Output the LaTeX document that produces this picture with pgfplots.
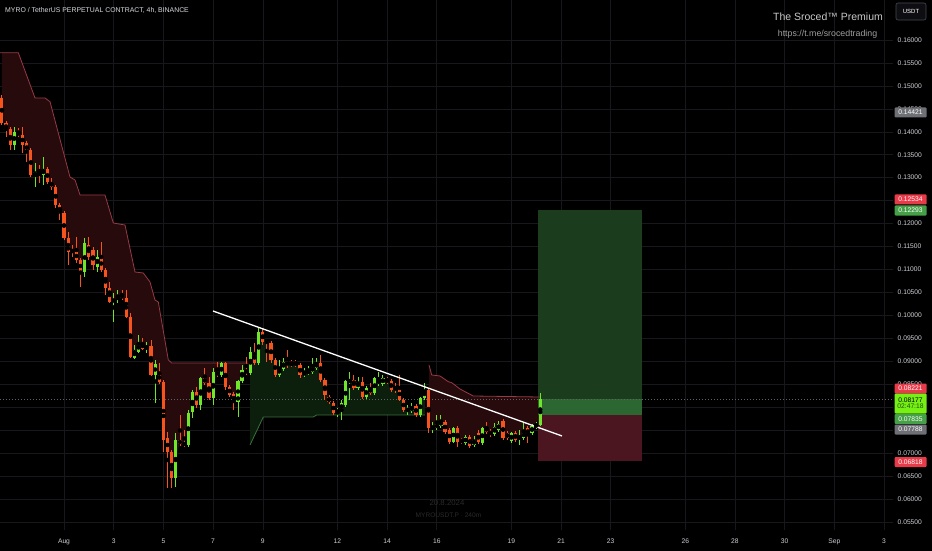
\documentclass[border=0pt]{standalone}
\usepackage{fontspec}
\setmainfont{Liberation Sans}
\usepackage{pgfplots}
\pgfplotsset{compat=1.18}
\usepgfplotslibrary{fillbetween}
\usepackage{pgfplotstable}

\definecolor{upc}{RGB}{112,230,40}
\definecolor{dnc}{RGB}{246,84,28}
\definecolor{gridc}{RGB}{24,24,28}
\definecolor{tickc}{RGB}{205,207,212}
\definecolor{stred}{RGB}{150,58,68}
\definecolor{stredfill}{RGB}{38,10,12}
\definecolor{stgreen}{RGB}{58,112,60}
\definecolor{stgreenfill}{RGB}{12,31,13}
\definecolor{posgreen}{RGB}{28,60,30}
\definecolor{posgreenb}{RGB}{44,102,48}
\definecolor{posred}{RGB}{76,22,32}
\definecolor{tagred}{RGB}{232,58,72}
\definecolor{taggreen}{RGB}{70,160,72}
\definecolor{taglime}{RGB}{118,240,20}
\definecolor{taggray}{RGB}{110,112,118}

\pgfplotstableread{
i o h l c
0 0.14737 0.14802 0.14148 0.14192
1 0.14192 0.14235 0.13887 0.14039
2 0.14061 0.14105 0.13604 0.13712
3 0.13712 0.14105 0.13604 0.13996
4 0.13996 0.14083 0.13887 0.13930
5 0.13930 0.14105 0.13538 0.13712
6 0.13756 0.13800 0.13342 0.13560
7 0.13604 0.13647 0.13015 0.13059
8 0.13059 0.13320 0.12797 0.13124
9 0.13168 0.13277 0.12884 0.13124
10 0.13059 0.13451 0.12841 0.13190
11 0.13190 0.13233 0.12863 0.12906
12 0.12906 0.12993 0.12732 0.12797
13 0.12797 0.12841 0.12340 0.12405
14 0.12405 0.12449 0.12078 0.12231
15 0.12231 0.12274 0.11642 0.11686
16 0.11686 0.11817 0.11098 0.11381
17 0.11425 0.11533 0.11272 0.11381
18 0.11381 0.11708 0.11141 0.11207
19 0.11207 0.11250 0.10618 0.10945
20 0.10945 0.11686 0.10836 0.11577
21 0.11533 0.11708 0.11207 0.11272
22 0.11425 0.11490 0.10989 0.11098
23 0.11054 0.11425 0.10945 0.11272
24 0.11272 0.11599 0.10945 0.10989
25 0.10989 0.11032 0.10444 0.10597
26 0.10597 0.10727 0.10270 0.10291
27 0.10291 0.10488 0.09856 0.10357
28 0.10357 0.10553 0.10270 0.10400
29 0.10444 0.10553 0.10335 0.10379
30 0.10379 0.10553 0.09943 0.09965
31 0.09965 0.10052 0.09071 0.09093
32 0.09071 0.09354 0.09049 0.09246
33 0.09202 0.09572 0.09180 0.09398
34 0.09398 0.09507 0.09246 0.09267
35 0.09267 0.09420 0.09180 0.09333
36 0.09333 0.09463 0.08679 0.08701
37 0.08701 0.09028 0.08091 0.08940
38 0.08744 0.08962 0.08505 0.08548
39 0.08548 0.08592 0.07023 0.07284
40 0.07328 0.07459 0.06239 0.07023
41 0.07023 0.07067 0.06239 0.06456
42 0.06456 0.07437 0.06260 0.07284
43 0.07284 0.07829 0.07154 0.07197
44 0.07219 0.07502 0.07132 0.07175
45 0.07175 0.07938 0.07132 0.07873
46 0.07895 0.08374 0.07764 0.08330
47 0.08330 0.08439 0.07982 0.08047
48 0.08047 0.08657 0.07938 0.08635
49 0.08635 0.08853 0.08483 0.08526
50 0.08526 0.08657 0.08156 0.08200
51 0.08200 0.08853 0.08047 0.08766
52 0.08766 0.08984 0.08657 0.08701
53 0.08701 0.08984 0.08657 0.08962
54 0.08962 0.08984 0.08374 0.08439
55 0.08439 0.08483 0.08221 0.08265
56 0.08287 0.08330 0.07938 0.08112
57 0.08112 0.08592 0.07786 0.08570
58 0.08570 0.08919 0.08526 0.08810
59 0.08810 0.09093 0.08701 0.08744
60 0.08744 0.09311 0.08701 0.09202
61 0.09202 0.09398 0.08919 0.08962
62 0.08962 0.09725 0.08919 0.09638
63 0.09638 0.09725 0.09354 0.09420
64 0.09442 0.09463 0.08984 0.09398
65 0.09398 0.09442 0.08962 0.09028
66 0.09028 0.09071 0.08657 0.08701
67 0.08701 0.09028 0.08657 0.08853
68 0.08832 0.09071 0.08788 0.08984
69 0.08984 0.09246 0.08853 0.08919
70 0.08962 0.09028 0.08875 0.08919
71 0.08984 0.09028 0.08875 0.08919
72 0.08919 0.08962 0.08635 0.08701
73 0.08701 0.08853 0.08657 0.08766
74 0.08744 0.08897 0.08701 0.08788
75 0.08766 0.09071 0.08723 0.08875
76 0.08853 0.09071 0.08810 0.08962
77 0.08962 0.09137 0.08548 0.08592
78 0.08592 0.08635 0.08156 0.08265
79 0.08221 0.08265 0.08069 0.08112
80 0.08091 0.08134 0.07829 0.07873
81 0.07873 0.07982 0.07786 0.07938
82 0.07938 0.08156 0.07720 0.08091
83 0.08047 0.08592 0.08004 0.08570
84 0.08548 0.08766 0.08156 0.08592
85 0.08592 0.08701 0.08374 0.08418
86 0.08418 0.08657 0.08374 0.08548
87 0.08548 0.08657 0.08178 0.08221
88 0.08221 0.08461 0.08178 0.08418
89 0.08418 0.08526 0.08265 0.08309
90 0.08309 0.08657 0.08265 0.08635
91 0.08505 0.08766 0.08461 0.08592
92 0.08505 0.08701 0.08461 0.08635
93 0.08614 0.08657 0.08505 0.08548
94 0.08570 0.08614 0.08330 0.08374
95 0.08439 0.08526 0.08309 0.08374
96 0.08418 0.08701 0.08134 0.08156
97 0.08156 0.08200 0.07895 0.07938
98 0.07895 0.08047 0.07829 0.07982
99 0.07916 0.08091 0.07873 0.08004
100 0.08025 0.08069 0.07786 0.07829
101 0.07829 0.08221 0.07786 0.08200
102 0.08200 0.08526 0.08156 0.08374
103 0.08374 0.08418 0.07437 0.07546
104 0.07524 0.07677 0.07437 0.07568
105 0.07546 0.07829 0.07502 0.07633
106 0.07590 0.07829 0.07546 0.07698
107 0.07677 0.07720 0.07415 0.07459
108 0.07502 0.07546 0.07197 0.07241
109 0.07241 0.07568 0.07219 0.07546
110 0.07546 0.07590 0.07132 0.07241
111 0.07284 0.07328 0.07197 0.07241
112 0.07219 0.07393 0.07175 0.07350
113 0.07350 0.07393 0.07110 0.07154
114 0.07175 0.07372 0.07132 0.07284
115 0.07437 0.07502 0.07197 0.07241
116 0.07219 0.07568 0.07175 0.07546
117 0.07568 0.07677 0.07415 0.07459
118 0.07481 0.07524 0.07350 0.07393
119 0.07415 0.07655 0.07372 0.07568
120 0.07502 0.07698 0.07459 0.07633
121 0.07698 0.07742 0.07284 0.07328
122 0.07437 0.07481 0.07284 0.07328
123 0.07263 0.07459 0.07219 0.07437
124 0.07437 0.07481 0.07241 0.07284
125 0.07306 0.07502 0.07175 0.07372
126 0.07328 0.07655 0.07284 0.07459
127 0.07546 0.07590 0.07219 0.07393
128 0.07437 0.07633 0.07393 0.07590
129 0.07568 0.07677 0.07524 0.07633
130 0.07611 0.08309 0.07590 0.08177
}\candles

\begin{document}
\begin{tikzpicture}
\begin{axis}[
  set layers, clip=false,
  at={(0pt,20pt)}, anchor=south west,
  scale only axis, width=893pt, height=530pt,
  xmin=-1.5755, xmax=34.360, ymin=0.05323, ymax=0.16872,
  axis line style={draw=none},
  major tick length=0pt,
  xmajorgrids, ymajorgrids,
  major grid style={gridc, line width=0.6pt},
  xtick={1,3,5,7,9,12,14,16,19,21,23,26,28,30,32,34},
  xticklabels={Aug,3,5,7,9,12,14,16,19,21,23,26,28,30,Sep,3},
  ytick={0.055,0.06,0.065,0.07,0.075,0.08,0.085,0.09,0.095,0.1,0.105,0.11,0.115,0.12,0.125,0.13,0.135,0.14,0.145,0.15,0.155,0.16},
  yticklabels={0.05500,0.06000,0.06500,0.07000,{},{},0.08500,0.09000,0.09500,0.10000,0.10500,0.11000,0.11500,0.12000,{},0.13000,0.13500,0.14000,0.14500,0.15000,0.15500,0.16000},
  yticklabel pos=right,
  tick label style={font=\fontsize{6.7}{7}\selectfont, text=tickc, inner sep=0pt},
  yticklabel style={anchor=west, xshift=4.5pt},
  xticklabel style={anchor=base, yshift=-13.5pt},
  scaled y ticks=false,
]
\begin{pgfonlayer}{axis background}
  \fill[black] (rel axis cs:-0.01,-0.06) rectangle (rel axis cs:1.06,1.02);
\end{pgfonlayer}
% position tool
\addplot[draw=none, fill=posgreen, forget plot] coordinates {(20.074,0.07835) (24.259,0.07835) (24.259,0.12293) (20.074,0.12293)};
\addplot[draw=none, fill=posgreenb, forget plot] coordinates {(20.074,0.07835) (24.259,0.07835) (24.259,0.08177) (20.074,0.08177)};
\addplot[draw=none, fill=posred, forget plot] coordinates {(20.074,0.06818) (24.259,0.06818) (24.259,0.07835) (20.074,0.07835)};

% candle mid path for indicator fills
\addplot[draw=none, name path=mid, forget plot] table[x expr=-1.5+\thisrow{i}/6, y expr=(\thisrow{o}+\thisrow{c})/2] {\candles};
% supertrend lines (paths for fills)
\addplot[draw=none, name path=redA, forget plot] coordinates {(-1.5755,0.15724) (-0.839,0.15724) (-0.167,0.14737) (0.235,0.14737) (0.437,0.14656) (1.241,0.13015) (1.443,0.12950) (1.644,0.12623) (2.650,0.12623) (2.984,0.12013) (3.455,0.11969) (3.857,0.10945) (4.191,0.10923) (4.461,0.10727) (4.662,0.10335) (4.795,0.10291) (5.197,0.09028) (5.334,0.08962) (8.485,0.08962)};
\addplot[draw=none, name path=greenA, forget plot] coordinates {(8.485,0.07175) (9.020,0.07786) (11.032,0.07786) (11.169,0.07829) (15.527,0.07829)};
\addplot[draw=none, name path=redB, forget plot] coordinates {(15.688,0.08919) (15.797,0.08701) (16.131,0.08679) (16.465,0.08555) (16.602,0.08533) (16.936,0.08396) (17.137,0.08337) (17.471,0.08243) (20.1667,0.08221)};
\addplot[stredfill, forget plot] fill between[of=redA and mid, soft clip={domain=-1.5:8.485}];
\addplot[stgreenfill, forget plot] fill between[of=greenA and mid, soft clip={domain=8.485:15.527}];
\addplot[stredfill, forget plot] fill between[of=redB and mid, soft clip={domain=15.688:20.1667}];
% lines over fills
\addplot[stred, line width=0.8pt, forget plot] coordinates {(-1.5755,0.15724) (-0.839,0.15724) (-0.167,0.14737) (0.235,0.14737) (0.437,0.14656) (1.241,0.13015) (1.443,0.12950) (1.644,0.12623) (2.650,0.12623) (2.984,0.12013) (3.455,0.11969) (3.857,0.10945) (4.191,0.10923) (4.461,0.10727) (4.662,0.10335) (4.795,0.10291) (5.197,0.09028) (5.334,0.08962) (8.485,0.08962)};
\addplot[stgreen, line width=0.8pt, forget plot] coordinates {(8.485,0.07175) (9.020,0.07786) (11.032,0.07786) (11.169,0.07829) (15.527,0.07829)};
\addplot[stred, line width=0.8pt, forget plot] coordinates {(15.688,0.08919) (15.797,0.08701) (16.131,0.08679) (16.465,0.08555) (16.602,0.08533) (16.936,0.08396) (17.137,0.08337) (17.471,0.08243) (20.1667,0.08221)};

% current price line
\addplot[color={rgb,255:red,95;green,98;blue,100}, line width=0.6pt, dash pattern=on 1pt off 2pt, forget plot] coordinates {(-1.5755,0.08177) (34.36,0.08177)};

% candles: wicks
\addplot[only marks, mark=none, forget plot, restrict expr to domain={\thisrow{c}-\thisrow{o}}{0:1},
  error bars/.cd, y dir=both, y explicit, error mark=none, error bar style={line width=0.9pt, upc}]
  table[x expr=-1.5+\thisrow{i}/6, y expr=(\thisrow{h}+\thisrow{l})/2, y error expr=(\thisrow{h}-\thisrow{l})/2] {\candles};
\addplot[only marks, mark=none, forget plot, restrict expr to domain={\thisrow{c}-\thisrow{o}}{-1:0},
  error bars/.cd, y dir=both, y explicit, error mark=none, error bar style={line width=0.9pt, dnc}]
  table[x expr=-1.5+\thisrow{i}/6, y expr=(\thisrow{h}+\thisrow{l})/2, y error expr=(\thisrow{h}-\thisrow{l})/2] {\candles};
% candles: bodies
\addplot[only marks, mark=none, forget plot, restrict expr to domain={\thisrow{c}-\thisrow{o}}{0:1},
  error bars/.cd, y dir=both, y explicit, error mark=none, error bar style={line width=3.2pt, upc}]
  table[x expr=-1.5+\thisrow{i}/6, y expr=(\thisrow{o}+\thisrow{c})/2, y error expr=abs(\thisrow{c}-\thisrow{o})/2+0.0001] {\candles};
\addplot[only marks, mark=none, forget plot, restrict expr to domain={\thisrow{c}-\thisrow{o}}{-1:0},
  error bars/.cd, y dir=both, y explicit, error mark=none, error bar style={line width=3.2pt, dnc}]
  table[x expr=-1.5+\thisrow{i}/6, y expr=(\thisrow{o}+\thisrow{c})/2, y error expr=abs(\thisrow{c}-\thisrow{o})/2+0.0001] {\candles};

% trend line
\addplot[white, line width=1.3pt, forget plot] coordinates {(6.996,0.10095) (21.040,0.07372)};
\end{axis}

\begin{scope}[x=1pt, y=-1pt, yshift=550pt]
  \tikzset{tagbox/.style={rounded corners=1pt, minimum width=32pt, minimum height=10pt, inner sep=0pt, text=white, font=\fontsize{6.7}{7}\selectfont}}
  \node[tagbox, fill=taggray] at (910.5,112.5) {0.14421};
  \node[tagbox, fill=tagred] at (910.5,199.5) {0.12534};
  \node[tagbox, fill=taggreen] at (910.5,210.5) {0.12293};
  \node[tagbox, fill=tagred] at (910.5,388.5) {0.08221};
  \node[tagbox, fill=taglime, text=black, minimum height=20pt, align=center] at (910.5,403.5) {0.08177\\[-1.2pt]{\color[RGB]{30,80,10}02:47:18}};
  \node[tagbox, fill=taggreen] at (910.5,419) {0.07835};
  \node[tagbox, fill=taggray] at (910.5,429.5) {0.07788};
  \node[tagbox, fill=tagred] at (910.5,462) {0.06818};
  % header
  \node[anchor=west, inner sep=0pt, text={rgb,255:red,215;green,217;blue,222}, font=\fontsize{6.9}{8}\selectfont] at (5,10) {MYRO / TetherUS PERPETUAL CONTRACT, 4h, BINANCE};
  \node[inner sep=0pt, text={rgb,255:red,200;green,200;blue,200}, font=\fontsize{10.5}{12}\selectfont] at (828,17) {The Sroced™ Premium};
  \node[inner sep=0pt, text={rgb,255:red,160;green,160;blue,160}, font=\fontsize{8.8}{10}\selectfont] at (827.5,34) {https://t.me/srocedtrading};
  \draw[rounded corners=2pt, draw={rgb,255:red,70;green,72;blue,80}, fill={rgb,255:red,14;green,14;blue,18}, line width=0.6pt] (896,3) rectangle (926,20);
  \node[inner sep=0pt, text=white, font=\fontsize{6}{7}\selectfont] at (911,11.5) {USDT};
  % bottom watermark
  \node[inner sep=0pt, text={rgb,255:red,42;green,42;blue,44}, font=\fontsize{7.8}{9}\selectfont] at (447,503) {20.8.2024};
  \node[inner sep=0pt, text={rgb,255:red,42;green,42;blue,44}, font=\fontsize{6.6}{8}\selectfont] at (448.5,515) {MYROUSDT.P · 240m};
\end{scope}
\pgfresetboundingbox
\useasboundingbox (0,0) rectangle (932pt,550pt);
\end{tikzpicture}
\end{document}
